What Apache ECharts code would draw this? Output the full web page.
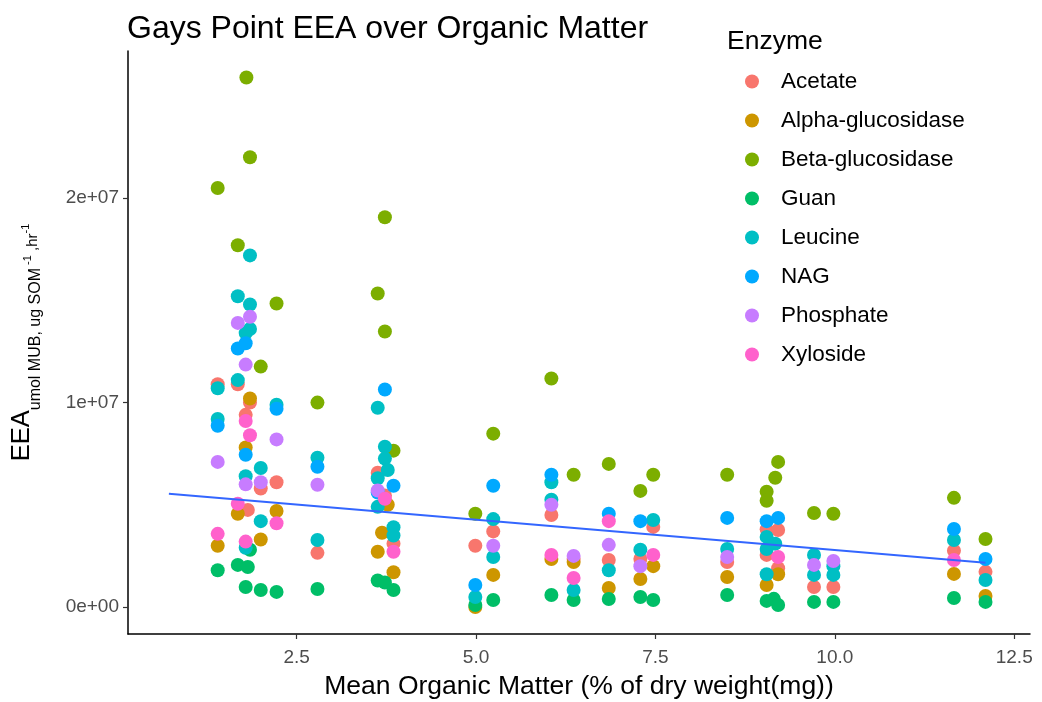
<!DOCTYPE html>
<html>
<head>
<meta charset="utf-8">
<script src="https://cdn.jsdelivr.net/npm/echarts@6/dist/echarts.min.js"></script>
<style>html,body{margin:0;padding:0;background:#fff;}#c{width:1042px;height:702px;}</style>
</head>
<body>
<div id="c"></div>
<script>
// values in millions (1e6) of EEA units
const enzymes = ['Acetate','Alpha-glucosidase','Beta-glucosidase','Guan','Leucine','NAG','Phosphate','Xyloside'];
const colors = ['#F8766D','#CD9600','#7CAE00','#00BE67','#00BFC4','#00A9FF','#C77CFF','#FF61CC'];

const acetate = [[1.40,10.9],[1.68,10.9],[1.85,10.0],[1.79,9.4],[2.00,5.8],[2.22,6.1],[1.82,4.75],[2.79,2.65],[3.63,6.57],[3.73,5.45],[3.85,3.1],[4.99,3.0],[5.24,3.7],[6.05,4.5],[6.36,2.35],[6.85,2.3],[7.29,2.35],[7.47,3.92],[8.50,2.2],[9.05,3.8],[9.21,3.77],[9.05,2.55],[9.21,1.9],[9.71,0.98],[9.98,0.98],[11.66,2.75],[12.10,1.72]];
const alphaGluc = [[1.85,10.2],[1.79,7.8],[1.68,4.56],[2.22,4.7],[1.40,3.0],[2.00,3.3],[3.77,5.0],[3.69,3.63],[3.63,2.7],[3.85,1.7],[4.99,0.0],[5.24,1.57],[6.05,2.35],[6.36,2.2],[6.85,0.93],[7.29,1.37],[7.47,2.0],[8.50,1.47],[9.05,1.08],[9.21,1.6],[11.66,1.62],[12.10,0.54]];
const betaGluc = [[1.80,25.9],[1.85,22.0],[1.40,20.5],[1.68,17.7],[2.22,14.85],[2.00,11.76],[2.79,10.0],[3.73,19.07],[3.63,15.34],[3.73,13.48],[3.85,7.65],[4.99,4.56],[5.24,8.48],[6.05,11.18],[6.36,6.47],[6.85,7.0],[7.29,5.68],[7.47,6.47],[8.50,6.47],[9.05,5.64],[9.05,5.2],[9.17,6.32],[9.21,7.1],[9.71,4.6],[9.98,4.56],[11.66,5.34],[12.10,3.33]];
const guan = [[1.40,1.8],[1.68,2.06],[1.82,1.96],[1.85,2.8],[1.79,0.98],[2.00,0.83],[2.22,0.74],[2.79,0.88],[3.63,1.3],[3.73,1.2],[3.85,0.83],[4.99,0.1],[5.24,0.34],[6.05,0.59],[6.36,0.34],[6.85,0.39],[7.29,0.49],[7.47,0.34],[8.50,0.59],[9.05,0.3],[9.15,0.4],[9.21,0.1],[9.71,0.25],[9.98,0.25],[11.66,0.44],[12.10,0.25]];
const leucine = [[1.85,17.2],[1.68,15.2],[1.85,14.8],[1.85,13.6],[1.79,13.4],[1.40,10.7],[1.68,11.1],[2.22,9.9],[1.40,9.2],[2.00,6.8],[1.79,6.4],[2.00,4.2],[1.79,2.9],[2.79,7.3],[2.79,3.28],[3.63,9.75],[3.73,7.84],[3.73,7.26],[3.77,6.7],[3.63,6.3],[3.63,4.9],[3.85,3.9],[3.85,3.5],[4.99,0.49],[5.24,4.3],[5.24,2.45],[6.05,6.1],[6.05,5.25],[6.36,0.83],[6.85,1.8],[7.29,2.8],[7.47,4.26],[8.50,2.84],[9.05,3.43],[9.17,3.1],[9.05,2.84],[9.05,1.6],[9.71,2.55],[9.71,1.57],[9.98,2.0],[9.98,1.57],[11.66,3.28],[12.10,1.32]];
const nag = [[1.68,12.65],[1.79,12.9],[1.40,8.87],[2.22,9.7],[1.79,7.45],[2.79,6.86],[3.73,10.64],[3.85,5.93],[3.63,5.6],[4.99,1.08],[5.24,5.93],[6.05,6.47],[6.85,4.56],[7.29,4.2],[8.50,4.36],[9.05,4.2],[9.21,4.36],[11.66,3.82],[12.10,2.35]];
const phosphate = [[1.85,14.2],[1.68,13.9],[1.79,11.86],[2.22,8.2],[1.40,7.1],[1.79,6.0],[2.00,6.1],[2.79,5.98],[3.63,5.7],[5.24,3.0],[6.05,5.0],[6.36,2.5],[6.85,3.04],[7.29,2.0],[8.50,2.45],[9.71,2.06],[9.98,2.25]];
const xyloside = [[1.79,9.1],[1.85,8.4],[1.68,5.05],[2.22,4.1],[1.40,3.58],[1.79,3.2],[3.73,5.3],[3.85,2.7],[6.05,2.55],[6.36,1.42],[6.85,4.2],[7.47,2.55],[9.21,2.45],[11.66,2.3]];

const trendX = [0.72, 12.10];
const trendY = [5.54, 2.16];

const xTicks = [2.5, 5.0, 7.5, 10.0, 12.5];
const yTicks = [0, 10, 20];
const yTickLabels = ['0e+00', '1e+07', '2e+07'];

const seriesData = [acetate, alphaGluc, betaGluc, guan, leucine, nag, phosphate, xyloside];
const FONT = 'Liberation Sans, Arial, sans-serif';

const series = enzymes.map((name, i) => ({
  name: name,
  type: 'scatter',
  data: seriesData[i],
  symbolSize: 14,
  itemStyle: { color: colors[i], opacity: 1 },
  z: 2
}));
series.push({
  name: 'trend',
  type: 'line',
  data: trendX.map((x, i) => [x, trendY[i]]),
  symbol: 'none',
  lineStyle: { color: '#3366FF', width: 2 },
  z: 3,
  silent: true
});

const chart = echarts.init(document.getElementById('c'));
chart.setOption({
  animation: false,
  backgroundColor: '#fff',
  title: [
    { text: 'Gays Point EEA over Organic Matter', left: 122, top: 8,
      textStyle: { fontFamily: FONT, fontSize: 32, fontWeight: 'normal', color: '#000' } },
    { text: 'Enzyme', left: 722, top: 23,
      textStyle: { fontFamily: FONT, fontSize: 26.5, fontWeight: 'normal', color: '#000' } }
  ],
  legend: {
    data: enzymes,
    orient: 'vertical',
    left: 745,
    top: 70,
    padding: 0,
    itemGap: 16,
    itemWidth: 14,
    itemHeight: 14,
    icon: 'circle',
    textStyle: { fontFamily: FONT, fontSize: 22.5, color: '#000', lineHeight: 20, padding: [0,0,0,17] }
  },
  grid: { left: 128, right: 12, top: 51, bottom: 68, outerBoundsMode: 'none', containLabel: false },
  xAxis: {
    type: 'value',
    min: 0.15,
    max: 12.72,
    name: 'Mean Organic Matter (% of dry weight(mg))',
    nameLocation: 'middle',
    nameGap: 39,
    nameTextStyle: { fontFamily: FONT, fontSize: 26.5, color: '#000' },
    axisLine: { show: true, onZero: false, lineStyle: { color: '#000', width: 1.5 } },
    axisTick: { show: true, length: 5, lineStyle: { color: '#333', width: 1.2 }, customValues: xTicks },
    axisLabel: { fontFamily: FONT, fontSize: 19, color: '#4D4D4D', margin: 14, customValues: xTicks,
      formatter: v => Number(v).toFixed(1) },
    splitLine: { show: false }
  },
  yAxis: {
    type: 'value',
    min: -1.32,
    max: 27.2,
    name: '{a|EEA}{s|umol MUB, ug SOM}{p| -1}{h| ,hr}{q|-1}',
    nameLocation: 'middle',
    nameRotate: 90,
    nameGap: 84,
    nameTextStyle: {
      fontFamily: FONT, color: '#000',
      rich: {
        a: { fontFamily: FONT, fontSize: 25.5, color: '#000', verticalAlign: 'bottom', padding: [0,0,9,0] },
        s: { fontFamily: FONT, fontSize: 16, color: '#000', verticalAlign: 'bottom' },
        p: { fontFamily: FONT, fontSize: 11, color: '#000', verticalAlign: 'bottom', padding: [0,0,11,0] },
        h: { fontFamily: FONT, fontSize: 15, color: '#000', verticalAlign: 'bottom', padding: [0,0,4,0] },
        q: { fontFamily: FONT, fontSize: 11, color: '#000', verticalAlign: 'bottom', padding: [0,0,13,0] }
      }
    },
    axisLine: { show: true, onZero: false, lineStyle: { color: '#000', width: 1.5 } },
    axisTick: { show: true, length: 5, lineStyle: { color: '#333', width: 1.2 }, customValues: yTicks },
    axisLabel: { fontFamily: FONT, fontSize: 19, color: '#4D4D4D', margin: 9, customValues: yTicks,
      formatter: v => yTickLabels[yTicks.indexOf(Math.round(v))] || '' },
    splitLine: { show: false }
  },
  series: series
});
</script>
</body>
</html>
